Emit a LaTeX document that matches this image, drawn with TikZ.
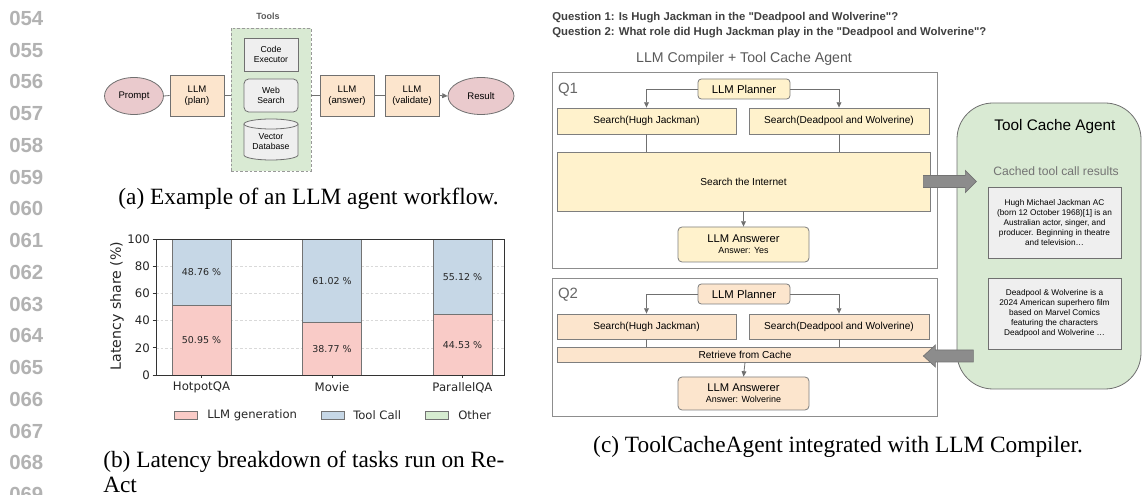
\documentclass[tikz,border=0pt]{standalone}
\usepackage{fontspec}
\setmainfont{Liberation Serif}
\newfontfamily\arialf{Liberation Sans}
\newfontfamily\dvs{DejaVu Sans}
\usetikzlibrary{arrows.meta,shapes.geometric,calc}
\definecolor{lc}{HTML}{707070}
\definecolor{peach}{HTML}{FCE5CD}
\definecolor{rosy}{HTML}{EACACD}
\definecolor{lgreen}{HTML}{D9EAD3}
\definecolor{lgray}{HTML}{EFEFEF}
\definecolor{lyellow}{HTML}{FFF2CC}
\definecolor{barred}{HTML}{F9CBC7}
\definecolor{barblue}{HTML}{C6D7E6}
\definecolor{bargreen}{HTML}{D6ECD0}
\definecolor{arrowgray}{HTML}{8C8C8C}
\tikzset{
  wf/.style={draw=lc, line width=0.6pt, align=center, inner sep=0pt, text=black,
    font=\arialf\fontsize{7.2}{8.25}\selectfont},
  llmbox/.style={wf, rectangle, fill=peach, minimum width=40.5pt, minimum height=30.75pt},
  oval/.style={wf, ellipse, fill=rosy},
  toolbox/.style={wf, fill=lgray, minimum width=40.5pt, minimum height=24.75pt,
    font=\arialf\fontsize{6.5}{7.5}\selectfont},
  conn/.style={draw=lc, line width=0.6pt},
  arr/.style={-{Triangle[length=4pt,width=3.6pt]}},
  qbox/.style={draw=lc!80, line width=0.6pt, fill=white, inner sep=0pt},
  sbox/.style={draw=lc!90, line width=0.6pt, inner sep=0pt, align=center,
    font=\arialf\fontsize{7.6}{9}\selectfont},
  planbox/.style={sbox, rounded corners=2.5pt, minimum width=69pt, minimum height=15pt,
    font=\arialf\fontsize{8.5}{10}\selectfont},
  ansbox/.style={sbox, rounded corners=3pt, minimum width=98.25pt,
    font=\arialf\fontsize{8.4}{9.75}\selectfont},
  qlab/.style={text=black!60, font=\arialf\fontsize{11.2}{13}\selectfont, inner sep=0pt},
  cachebox/.style={draw=lc, line width=0.6pt, fill=lgray, align=center, inner sep=0pt,
    minimum width=99.75pt, minimum height=53.25pt, font=\arialf\fontsize{6.2}{7.5}\selectfont},
  bigarrow/.style={fill=arrowgray, draw=black!55, line width=0.5pt, line join=miter},
  captxt/.style={font=\fontsize{17.5}{18.75}\selectfont, inner sep=0pt, text=black},
  lnum/.style={font=\arialf\bfseries\fontsize{15.3}{16}\selectfont, text=black!30, inner sep=0pt, anchor=west},
  ticklab/.style={font=\dvs\fontsize{8.8}{10}\selectfont, inner sep=0pt, text=black!85},
  barlab/.style={font=\dvs\fontsize{7.1}{8}\selectfont, inner sep=0pt, text=black!85},
  gridln/.style={draw=black!15, line width=0.4pt, dash pattern=on 2pt off 1.5pt},
  baredge/.style={draw=black!55, line width=0.5pt},
  qtext/.style={anchor=base west, inner sep=0pt, text=black!75,
    font=\arialf\bfseries\fontsize{8.5}{10}\selectfont}
}
\begin{document}
\begin{tikzpicture}[x=0.75pt,y=-0.75pt]
\useasboundingbox (0,0) rectangle (1143,495);
\clip (0,0) rectangle (1143,495);
\fill[white] (0,0) rectangle (1143,495);

% line numbers
\foreach \n [count=\i from 0] in {054,055,056,057,058,059,060,061,062,063,064,065,066,067,068,069}
  \node[lnum] (ln\n) at (9,{18.3+31.75*\i}) {\n};

% ---------------- (a) workflow ----------------
\node[font=\arialf\bfseries\fontsize{6.75}{8}\selectfont, text=black!65, inner sep=0pt] (toolslab) at (268,16) {Tools};
\node[draw=black!40, fill=lgreen, line width=0.6pt, dash pattern=on 2pt off 1.5pt,
  minimum width=60pt, minimum height=107.25pt, inner sep=0pt] (tools) at (271,99.5) {};
\node[toolbox] (code) at (271,54.5) {Code\\Executor};
\node[toolbox, rounded corners=3.5pt] (web) at (271,95.5) {Web\\Search};
% vector database cylinder
\filldraw[fill=lgray, draw=lc, line width=0.6pt] (244,124) -- (244,155)
   arc[start angle=180, end angle=0, x radius=27, y radius=5] -- (298,124);
\filldraw[fill=lgray, draw=lc, line width=0.6pt] (271,124) ellipse [x radius=27, y radius=5];
\node[align=center, inner sep=0pt, font=\arialf\fontsize{6.5}{7.5}\selectfont] (vdb) at (271,142) {Vector\\Database};

\node[oval, minimum width=44.25pt, minimum height=27.75pt] (prompt) at (134,96) {Prompt};
\node[llmbox] (plan) at (197,95.5) {LLM\\(plan)};
\node[llmbox] (answer) at (347,95.5) {LLM\\(answer)};
\node[llmbox] (validate) at (412,95.5) {LLM\\(validate)};
\node[oval, minimum width=49.5pt, minimum height=27.75pt] (result) at (481,96) {Result};

\draw[conn] (prompt.east) -- (plan.west);
\draw[conn] (plan.east) -- (plan.east -| tools.west);
\draw[conn] (answer.west -| tools.east) -- (answer.west);
\draw[conn] (answer.east) -- (validate.west);
\draw[conn, arr] (validate.east) -- (result.west);

\node[captxt, anchor=base] (capa) at (308.5,205) {(a) Example of an LLM agent workflow.};

% ---------------- (b) bar chart ----------------
\foreach \v in {20,40,60,80}
  \draw[gridln] (156,{375-1.36*\v}) -- (504,{375-1.36*\v});
\foreach \xc/\rv/\bv/\name in {201.5/50.95/48.76/HotpotQA, 332/38.77/61.02/Movie, 462.5/44.53/55.12/ParallelQA}{
  \filldraw[baredge, fill=barred] (\xc-29.5,375) rectangle (\xc+29.5,{375-1.36*\rv});
  \filldraw[baredge, fill=barblue] (\xc-29.5,{375-1.36*\rv}) rectangle (\xc+29.5,{375-1.36*(\rv+\bv)});
  \filldraw[baredge, fill=bargreen] (\xc-29.5,{375-1.36*(\rv+\bv)}) rectangle (\xc+29.5,239);
  \node[barlab] (r\name) at (\xc,{375-1.36*\rv/2}) {\rv\ \%};
  \node[barlab] (b\name) at (\xc,{375-1.36*(\rv+\bv/2)}) {\bv\ \%};
  \draw[draw=black!80, line width=0.5pt] (\xc,375) -- (\xc,378.5);
  \node[ticklab] (x\name) at (\xc,387.5) {\name};
}
\draw[draw=black!80, line width=0.6pt] (156,239) rectangle (504,375);
\foreach \v in {0,20,40,60,80,100}{
  \draw[draw=black!80, line width=0.5pt] (152.5,{375-1.36*\v}) -- (156,{375-1.36*\v});
  \node[ticklab, anchor=east] (yt\v) at (150,{375-1.36*\v}) {\v};
}
\node[ticklab, font=\dvs\fontsize{10.6}{12}\selectfont, rotate=90] (ylab) at (117,306) {Latency share (\%)};
% legend
\filldraw[baredge, fill=barred] (174,411) rectangle (197,419);
\node[ticklab, anchor=west, font=\dvs\fontsize{8.7}{10}\selectfont] (leg1) at (207,415) {LLM generation};
\filldraw[baredge, fill=barblue] (321,411) rectangle (344,419);
\node[ticklab, anchor=west, font=\dvs\fontsize{8.7}{10}\selectfont] (leg2) at (353,415) {Tool Call};
\filldraw[baredge, fill=bargreen] (425,411) rectangle (448,419);
\node[ticklab, anchor=west, font=\dvs\fontsize{8.7}{10}\selectfont] (leg3) at (458,415) {Other};

\node[captxt, anchor=base west] (capb1) at (103,467) {(b) Latency breakdown of tasks run on Re-};
\node[captxt, anchor=base west] (capb2) at (103,492) {Act};

% ---------------- (c) ----------------
\node[qtext] (qa) at (552,21) {Question 1: Is Hugh Jackman in the "Deadpool and Wolverine"?};
\node[qtext] (qb) at (552,36) {Question 2: What role did Hugh Jackman play in the "Deadpool and Wolverine"?};
\node[inner sep=0pt, text=black!65, font=\arialf\fontsize{10.6}{12}\selectfont] (title) at (744,59) {LLM Compiler + Tool Cache Agent};

% Q1
\node[qbox, minimum width=288.75pt, minimum height=147pt] (q1) at (744.5,170) {};
\node[qlab] (q1lab) at (568,90) {Q1};
\node[planbox, fill=lyellow] (p1) at (744,89) {LLM Planner};
\node[sbox, fill=lyellow, minimum width=134.25pt, minimum height=19.5pt] (s1a) at (646.5,121) {Search(Hugh Jackman)};
\node[sbox, fill=lyellow, minimum width=135pt, minimum height=19.5pt] (s1b) at (839,121) {Search(Deadpool and Wolverine)};
\node[sbox, fill=lyellow, minimum width=279.75pt, minimum height=44.25pt] (inet) at (743.5,181.5) {Search the Internet};
\node[ansbox, fill=lyellow, minimum height=26.25pt] (a1) at (743.5,244.5)
  {LLM Answerer\\[-1.5pt]{\fontsize{6.7}{8}\selectfont Answer: Yes}};
\draw[conn, arr] (p1.west) -| (s1a.north);
\draw[conn, arr] (p1.east) -| (s1b.north);
\draw[conn] (s1a.south) -- (s1a.south |- inet.north);
\draw[conn] (s1b.south) -- (s1b.south |- inet.north);
\draw[conn, arr] (inet.south) -- (a1.north);

% Q2
\node[qbox, minimum width=288.75pt, minimum height=103.5pt] (q2) at (744.5,347) {};
\node[qlab] (q2lab) at (568,295) {Q2};
\node[planbox, fill=peach] (p2) at (744,294) {LLM Planner};
\node[sbox, fill=peach, minimum width=134.25pt, minimum height=18.75pt] (s2a) at (646.5,326.5) {Search(Hugh Jackman)};
\node[sbox, fill=peach, minimum width=135pt, minimum height=18.75pt] (s2b) at (839,326.5) {Search(Deadpool and Wolverine)};
\node[sbox, fill=peach, minimum width=282pt, minimum height=11.25pt] (ret) at (745,354.5) {Retrieve from Cache};
\node[ansbox, fill=peach, minimum height=24.75pt] (a2) at (743.5,393.5)
  {LLM Answerer\\[-1.5pt]{\fontsize{6.7}{8}\selectfont Answer: Wolverine}};
\draw[conn, arr] (p2.west) -| (s2a.north);
\draw[conn, arr] (p2.east) -| (s2b.north);
\draw[conn] (s2a.south) -- (s2a.south |- ret.north);
\draw[conn] (s2b.south) -- (s2b.south |- ret.north);
\draw[conn, arr] (ret.south) -- (a2.north);

% Tool cache agent
\node[draw=lc, line width=0.6pt, fill=lgreen, rounded corners=27pt, inner sep=0pt,
  minimum width=138pt, minimum height=214.5pt] (tca) at (1049,246) {};
\node[inner sep=0pt, font=\arialf\fontsize{11.5}{13}\selectfont] (tcatitle) at (1055,127) {Tool Cache Agent};
\node[inner sep=0pt, text=black!55, font=\arialf\fontsize{9.1}{11}\selectfont] (cached) at (1056,171) {Cached tool call results};
\node[cachebox] (c1) at (1054.5,222.5) {Hugh Michael Jackman AC\\(born 12 October 1968)[1] is an\\Australian actor, singer, and\\producer. Beginning in theatre\\and television…};
\node[cachebox] (c2) at (1054.5,313.5) {Deadpool \& Wolverine is a\\2024 American superhero film\\based on Marvel Comics\\featuring the characters\\Deadpool and Wolverine …};

% big arrows
\coordinate (ra) at (inet.east |- inet.center);
\filldraw[bigarrow] ($(ra)+(-7,-6)$) -- ++(42,0) -- ++(0,-5) -- ++(11,11) -- ++(-11,11) -- ++(0,-5) -- ++(-42,0) -- cycle;
\coordinate (la) at (ret.east);
\filldraw[bigarrow] ($(la)+(-10,1.5)$) -- ++(12,-11) -- ++(0,5) -- ++(38,0) -- ++(0,12) -- ++(-38,0) -- ++(0,5) -- cycle;

\node[captxt, anchor=base] (capc) at (838,452) {(c) ToolCacheAgent integrated with LLM Compiler.};
\end{tikzpicture}
\end{document}
